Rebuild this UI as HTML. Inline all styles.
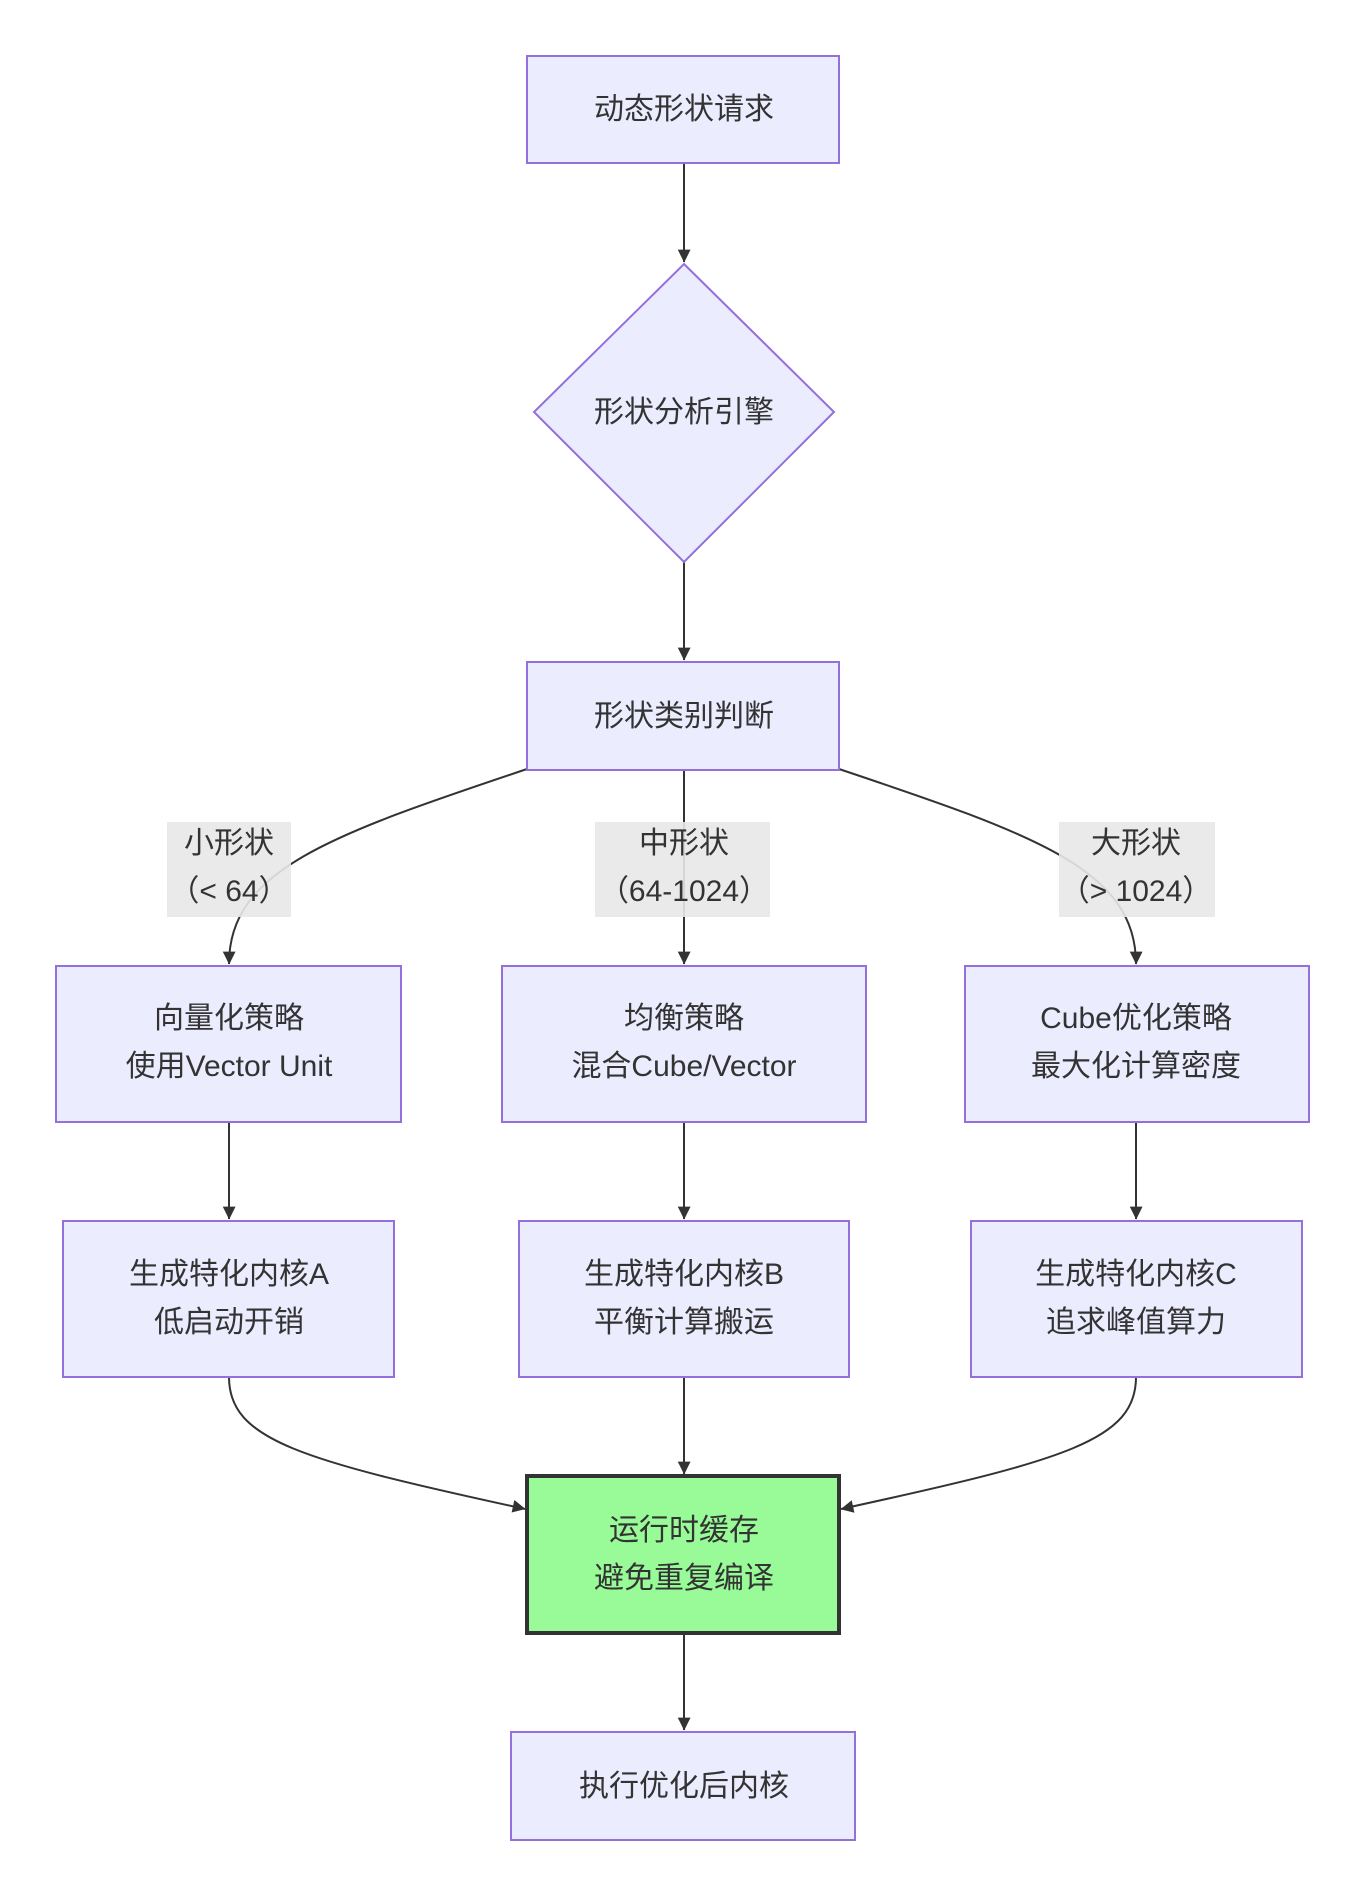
<!DOCTYPE html>
<html><head><meta charset="utf-8"><style>
html,body{margin:0;padding:0;background:#fff;}
svg text{font-family:"Liberation Sans","Noto Sans CJK SC",sans-serif;font-size:30px;fill:#333;text-anchor:middle;}
</style></head><body>
<svg width="1366" height="1899" viewBox="0 0 1366 1899" xmlns="http://www.w3.org/2000/svg">
<defs>
<marker id="ar" viewBox="0 0 10 10" refX="9" refY="5" markerWidth="8" markerHeight="8" markerUnits="userSpaceOnUse" orient="auto" overflow="visible">
<path d="M0,0 L10,5 L0,10 z" fill="#333" transform="scale(1.6) translate(-4,-2)"/>
</marker>
</defs>
<g fill="none" stroke="#333" stroke-width="2">
<path d="M684,163 V262" marker-end="url(#ar)"/>
<path d="M684,562 V660" marker-end="url(#ar)"/>
<path d="M527,769 C330,835 229,870 229,964" marker-end="url(#ar)"/>
<path d="M684,770 V964" marker-end="url(#ar)"/>
<path d="M839,769 C1036,835 1136,870 1136,964" marker-end="url(#ar)"/>
<path d="M229,1122 V1219" marker-end="url(#ar)"/>
<path d="M684,1122 V1219" marker-end="url(#ar)"/>
<path d="M1136,1122 V1219" marker-end="url(#ar)"/>
<path d="M229,1377 C229,1440 300,1460 525,1509" marker-end="url(#ar)"/>
<path d="M684,1377 V1474" marker-end="url(#ar)"/>
<path d="M1136,1377 C1136,1440 1066,1460 841,1509" marker-end="url(#ar)"/>
<path d="M684,1633 V1730" marker-end="url(#ar)"/>
</g>
<g fill="#ECECFF" stroke="#9370DB" stroke-width="2">
<rect x="527" y="56" width="312" height="107"/>
<polygon points="684,264 834,412 684,562 534,412"/>
<rect x="527" y="662" width="312" height="108"/>
<rect x="56" y="966" width="345" height="156"/>
<rect x="502" y="966" width="364" height="156"/>
<rect x="965" y="966" width="344" height="156"/>
<rect x="63" y="1221" width="331" height="156"/>
<rect x="519" y="1221" width="330" height="156"/>
<rect x="971" y="1221" width="331" height="156"/>
<rect x="511" y="1732" width="344" height="108"/>
</g>
<rect x="527" y="1476" width="312" height="157" fill="#98FB98" stroke="#333" stroke-width="4"/>
<g fill="#e8e8e8" opacity="0.9">
<rect x="167" y="822" width="124" height="95"/>
<rect x="595" y="822" width="175" height="95"/>
<rect x="1059" y="822" width="156" height="95"/>
</g>
<text x="684" y="119">动态形状请求</text>
<text x="684" y="422">形状分析引擎</text>
<text x="684" y="726">形状类别判断</text>
<text x="229" y="853">小形状</text><text x="229" y="901">（&lt; 64）</text>
<text x="684" y="853">中形状</text><text x="684" y="901">（64-1024）</text>
<text x="1136" y="853">大形状</text><text x="1136" y="901">（&gt; 1024）</text>
<text x="229" y="1028">向量化策略</text><text x="229" y="1076">使用Vector Unit</text>
<text x="684" y="1028">均衡策略</text><text x="684" y="1076">混合Cube/Vector</text>
<text x="1136" y="1028">Cube优化策略</text><text x="1136" y="1076">最大化计算密度</text>
<text x="229" y="1284">生成特化内核A</text><text x="229" y="1332">低启动开销</text>
<text x="684" y="1284">生成特化内核B</text><text x="684" y="1332">平衡计算搬运</text>
<text x="1136" y="1284">生成特化内核C</text><text x="1136" y="1332">追求峰值算力</text>
<text x="684" y="1540">运行时缓存</text><text x="684" y="1588">避免重复编译</text>
<text x="684" y="1796">执行优化后内核</text>
</svg>
</body></html>
